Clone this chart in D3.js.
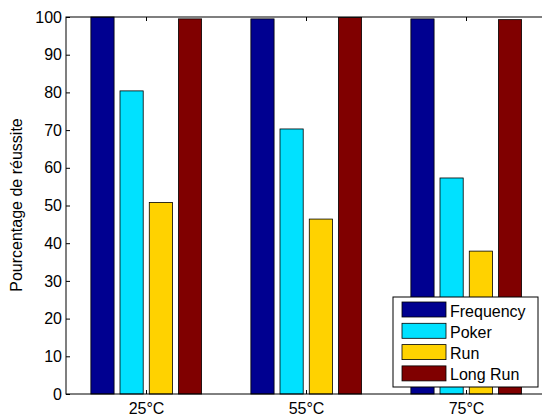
<!DOCTYPE html>
<html>
<head>
<meta charset="utf-8">
<script src="https://cdn.jsdelivr.net/npm/d3@7"></script>
<style>
  body { margin: 0; background: #fff; }
  svg { display: block; font-family: "Liberation Sans", Arial, sans-serif; }
</style>
</head>
<body>
<div id="chart"></div>
<script>
const categories = ["25°C", "55°C", "75°C"];
const seriesNames = ["Frequency", "Poker", "Run", "Long Run"];
const frequency = [100, 99.5, 99.5];
const poker = [80.4, 70.3, 57.3];
const run = [50.8, 46.4, 37.9];
const longRun = [99.5, 99.9, 99.3];
const yTicks = [0, 10, 20, 30, 40, 50, 60, 70, 80, 90, 100];
const colors = ["#000090", "#00E1FF", "#FFD200", "#800000"];

const series = [frequency, poker, run, longRun];

const W = 542, H = 418;
const margin = {top: 17, right: -4, bottom: 24, left: 66};
const width = W - margin.left - margin.right;
const height = H - margin.top - margin.bottom;

const svg = d3.select("#chart").append("svg")
  .attr("width", W).attr("height", H);
const g = svg.append("g")
  .attr("transform", `translate(${margin.left},${margin.top})`);

// categories sit at 1..3, axis spans 0.5..3.5
const x = d3.scaleLinear().domain([0.5, 3.5]).range([0, width]);
const y = d3.scaleLinear().domain([0, 100]).range([height, 0]);

const barW = 0.145;
const offsets = [-0.272, -0.09, 0.093, 0.275];

series.forEach((vals, si) => {
  g.selectAll(".bar" + si)
    .data(vals)
    .enter()
    .append("rect")
    .attr("x", (d, i) => x(i + 1 + offsets[si] - barW / 2))
    .attr("width", x(barW) - x(0))
    .attr("y", d => y(d))
    .attr("height", d => y(0) - y(d))
    .attr("fill", colors[si])
    .attr("stroke", "#000")
    .attr("stroke-width", 0.8);
});

// frame
g.append("rect")
  .attr("width", width).attr("height", height)
  .attr("fill", "none").attr("stroke", "#000").attr("stroke-width", 1);

const tickLen = 4;
g.append("g").attr("transform", `translate(0,${height})`)
  .call(d3.axisBottom(x).tickValues([1, 2, 3]).tickFormat((d, i) => categories[i])
    .tickSizeInner(-tickLen).tickSizeOuter(0).tickPadding(9))
  .call(a => a.select(".domain").remove());
g.append("g")
  .call(d3.axisTop(x).tickValues([1, 2, 3]).tickFormat("")
    .tickSizeInner(-tickLen).tickSizeOuter(0))
  .call(a => a.select(".domain").remove());
g.append("g")
  .call(d3.axisLeft(y).tickValues(yTicks)
    .tickSizeInner(-tickLen).tickSizeOuter(0).tickPadding(4))
  .call(a => a.select(".domain").remove());
g.append("g").attr("transform", `translate(${width},0)`)
  .call(d3.axisRight(y).tickValues(yTicks).tickFormat("")
    .tickSizeInner(-tickLen).tickSizeOuter(0))
  .call(a => a.select(".domain").remove());

svg.selectAll(".tick text").attr("font-size", 16).attr("fill", "#000")
  .attr("font-family", "Liberation Sans, Arial, sans-serif");
svg.selectAll(".tick line").attr("stroke", "#000");

svg.append("text")
  .attr("transform", `translate(22,${(110 + 300) / 2}) rotate(-90)`)
  .attr("text-anchor", "middle")
  .attr("font-size", 16)
  .text("Pourcentage de réussite");

// legend
const lg = svg.append("g").attr("transform", "translate(393,297)");
lg.append("rect").attr("width", 145).attr("height", 90)
  .attr("fill", "#fff").attr("stroke", "#000").attr("stroke-width", 1);
seriesNames.forEach((name, i) => {
  const row = lg.append("g").attr("transform", `translate(9,${5 + i * 21.3})`);
  row.append("rect").attr("width", 44).attr("height", 15)
    .attr("fill", colors[i]).attr("stroke", "#000").attr("stroke-width", 0.8);
  row.append("text").attr("x", 48).attr("y", 14.5)
    .attr("font-size", 16).text(name);
});
</script>
</body>
</html>
